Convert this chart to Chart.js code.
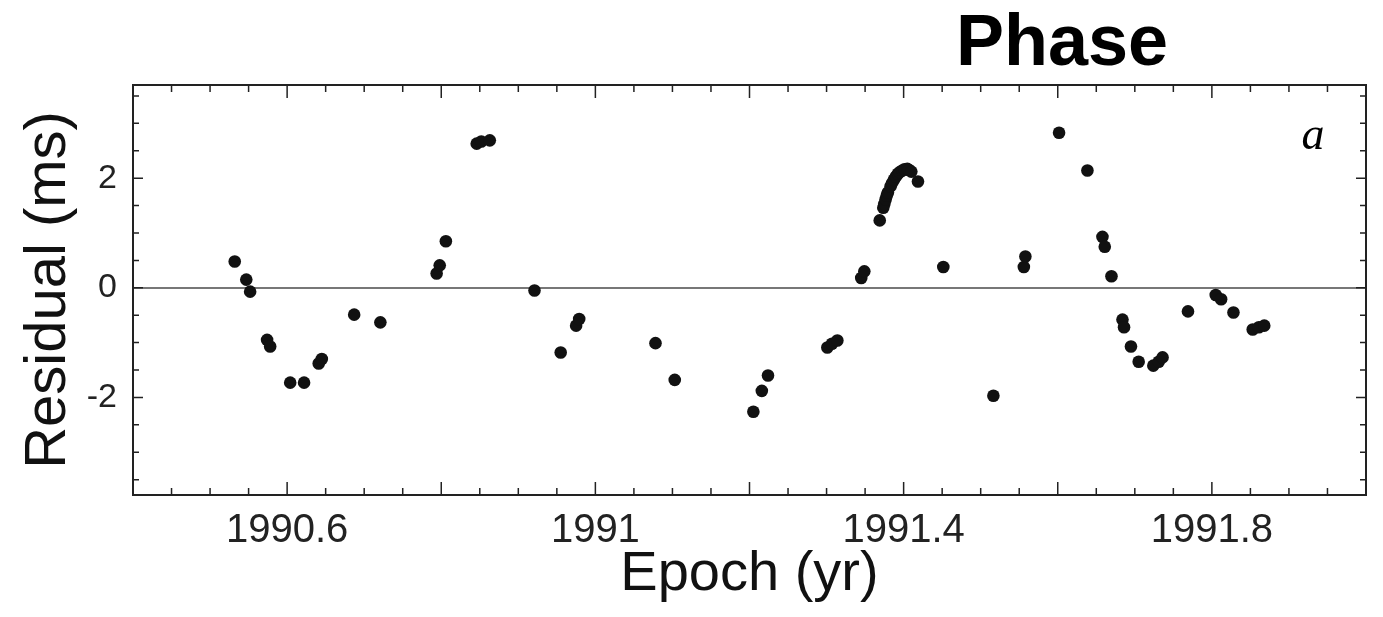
<!DOCTYPE html>
<html>
<head>
<meta charset="utf-8">
<script src="https://cdn.jsdelivr.net/npm/chart.js@4.4.0/dist/chart.umd.min.js"></script>
<style>
  html, body { margin: 0; padding: 0; background: #fff; }
  #wrap { width: 1383px; height: 617px; }
</style>
</head>
<body>
<div id="wrap"><canvas id="grafico" width="1383" height="617"></canvas></div>
<script>
// epochs (yr)
var epocas = [
  1990.532, 1990.547, 1990.552, 1990.574, 1990.578, 1990.604, 1990.622, 1990.641, 1990.645,
  1990.687, 1990.721, 1990.794, 1990.798, 1990.806, 1990.846, 1990.852, 1990.863,
  1990.921, 1990.955, 1990.975, 1990.979, 1991.078, 1991.103,
  1991.205, 1991.216, 1991.224, 1991.301, 1991.307, 1991.314,
  1991.345, 1991.349, 1991.369,
  1991.3736, 1991.375, 1991.3766, 1991.378, 1991.3796, 1991.383, 1991.385, 1991.3874,
  1991.390, 1991.3926, 1991.395, 1991.3983, 1991.401, 1991.4048, 1991.407, 1991.410, 1991.4186,
  1991.4515, 1991.5165, 1991.556, 1991.558, 1991.6017, 1991.6385,
  1991.658, 1991.661, 1991.6697, 1991.684, 1991.686, 1991.695, 1991.705,
  1991.724, 1991.731, 1991.736, 1991.769, 1991.805, 1991.812, 1991.828,
  1991.853, 1991.861, 1991.868
];
// residuals (ms)
var residuos = [
  0.48, 0.15, -0.07, -0.95, -1.07, -1.73, -1.73, -1.38, -1.30,
  -0.49, -0.63, 0.26, 0.41, 0.85, 2.63, 2.67, 2.69,
  -0.05, -1.18, -0.69, -0.57, -1.01, -1.68,
  -2.26, -1.88, -1.60, -1.09, -1.02, -0.96,
  0.18, 0.30, 1.23,
  1.46, 1.53, 1.61, 1.68, 1.74, 1.85, 1.91, 1.97,
  2.03, 2.08, 2.11, 2.14, 2.16, 2.17, 2.15, 2.12, 1.94,
  0.38, -1.97, 0.38, 0.57, 2.83, 2.14,
  0.93, 0.75, 0.21, -0.58, -0.72, -1.07, -1.35,
  -1.42, -1.35, -1.27, -0.43, -0.13, -0.21, -0.45,
  -0.76, -0.72, -0.69
];

var xTicks = [1990.6, 1991, 1991.4, 1991.8];
var xLabels = ['1990.6', '1991', '1991.4', '1991.8'];
var yTicks = [-2, 0, 2];
var yLabels = ['-2', '0', '2'];

var pontos = epocas.map(function(e, i) { return {x: e, y: residuos[i]}; });

// frame, inward ticks, title and panel letter
var moldura = {
  id: 'moldura',
  afterDraw: function(chart) {
    var ctx = chart.ctx;
    var a = chart.chartArea;
    var sx = chart.scales.x, sy = chart.scales.y;
    ctx.save();
    ctx.strokeStyle = '#222';
    ctx.lineWidth = 1.5;
    for (var i = 0; i <= 32; i++) {
      var v = 1990.4 + i * 0.05;
      var px = sx.getPixelForValue(v);
      var len = (i % 4 === 0) ? 13 : 7;
      ctx.beginPath();
      ctx.moveTo(px, a.bottom); ctx.lineTo(px, a.bottom - len);
      ctx.moveTo(px, a.top); ctx.lineTo(px, a.top + len);
      ctx.stroke();
    }
    for (var j = -7; j <= 7; j++) {
      var py = sy.getPixelForValue(j * 0.5);
      var l2 = (j % 4 === 0) ? 10 : 6;
      ctx.beginPath();
      ctx.moveTo(a.left, py); ctx.lineTo(a.left + l2, py);
      ctx.moveTo(a.right, py); ctx.lineTo(a.right - l2, py);
      ctx.stroke();
    }
    ctx.lineWidth = 2;
    ctx.strokeRect(a.left, a.top, a.right - a.left, a.bottom - a.top);

    ctx.fillStyle = '#000';
    ctx.textAlign = 'center';
    ctx.textBaseline = 'alphabetic';
    ctx.font = 'bold 72px "Liberation Sans", Arial, sans-serif';
    ctx.fillText('Phase', 1062, 65);
    ctx.font = 'italic 46px "Liberation Serif", serif';
    ctx.fillText('a', 1313, 149);
    ctx.restore();
  }
};

var ctx = document.getElementById('grafico').getContext('2d');
var myChart = new Chart(ctx, {
  type: 'scatter',
  data: {
    datasets: [{
      label: 'Residual',
      data: pontos,
      pointRadius: 6.3,
      pointHoverRadius: 6.3,
      backgroundColor: '#111',
      borderWidth: 0
    }]
  },
  options: {
    responsive: false,
    animation: false,
    layout: { padding: { left: 0, right: 17, top: 85, bottom: 0 } },
    plugins: {
      legend: { display: false },
      tooltip: { enabled: false }
    },
    scales: {
      x: {
        type: 'linear',
        min: 1990.4,
        max: 1992.0,
        afterFit: function(s) { s.height = 122; },
        afterBuildTicks: function(s) { s.ticks = xTicks.map(function(v) { return {value: v}; }); },
        grid: { display: false, drawTicks: false },
        border: { display: false },
        ticks: {
          padding: 12,
          color: '#222',
          font: { family: 'Liberation Sans', size: 40 },
          maxRotation: 0,
          callback: function(v) { return xLabels[xTicks.indexOf(v)]; }
        },
        title: {
          display: true,
          text: 'Epoch (yr)',
          color: '#111',
          font: { family: 'Liberation Sans', size: 56 },
          padding: { top: 0, bottom: 9 }
        }
      },
      y: {
        min: -3.78,
        max: 3.7,
        afterFit: function(s) { s.width = 133; },
        afterBuildTicks: function(s) { s.ticks = yTicks.map(function(v) { return {value: v}; }); },
        grid: {
          drawTicks: false,
          lineWidth: 2,
          color: function(c) { return c.tick && c.tick.value === 0 ? '#777' : 'rgba(0,0,0,0)'; }
        },
        border: { display: false },
        ticks: {
          padding: 16,
          color: '#222',
          font: { family: 'Liberation Sans', size: 34 },
          callback: function(v) { return yLabels[yTicks.indexOf(v)]; }
        },
        title: {
          display: true,
          text: 'Residual (ms)',
          color: '#111',
          font: { family: 'Liberation Sans', size: 58 },
          padding: { top: 14, bottom: 0 }
        }
      }
    }
  },
  plugins: [moldura]
});
</script>
</body>
</html>
